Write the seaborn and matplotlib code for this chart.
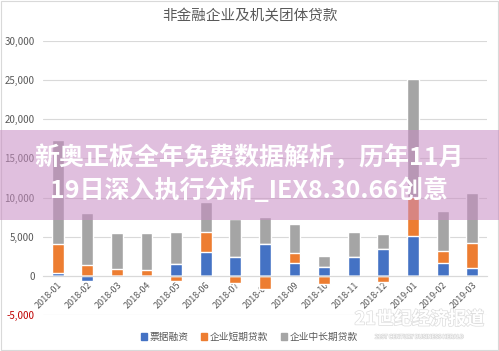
import numpy as np
import pandas as pd
import matplotlib
matplotlib.use('Agg')
import matplotlib.pyplot as plt
import matplotlib.patheffects as pe
from matplotlib.patches import Rectangle
import seaborn as sns

# Data (100 million yuan)
months = ['2018-01', '2018-02', '2018-03', '2018-04', '2018-05', '2018-06',
          '2018-07', '2018-08', '2018-09', '2018-10', '2018-11', '2018-12',
          '2019-01', '2019-02', '2019-03']
bill = [400, -700, -100, 0, 1500, 3000, 2400, 4100, 1700, 1100, 2350, 3400,
        5150, 1700, 1000]
short = [3700, 1400, 850, 800, -600, 2600, -950, -1700, 1200, -1050, 0, -800,
         4950, 1500, 3200]
longterm = [13250, 6650, 4600, 4650, 4050, 3900, 4850, 3400, 3700, 1400, 3300,
            1950, 15000, 5100, 6400]

names = ['票据融资', '企业短期贷款', '企业中长期贷款']
colors = ['#4472C4', '#ED7D31', '#A5A5A5']
title = '非金融企业及机关团体贷款'
yticks = [-5000, 0, 5000, 10000, 15000, 20000, 25000, 30000]
banner = ['新奥正板全年免费数据解析，历年11月', '19日深入执行分析_IEX8.30.66创意']

sns.set_style('white')
plt.rcParams['font.family'] = ['Noto Sans CJK SC', 'DejaVu Sans']
grey = '#595959'

fig = plt.figure(figsize=(4.99, 3.51), dpi=100)
ax = fig.add_axes([0.086, 0.1026, 0.89, 0.7804])

# Stacked bars drawn as overlapping cumulative layers (positive / negative)
series = np.array([bill, short, longterm], dtype=float)
pos = np.cumsum(np.clip(series, 0, None), axis=0)
neg = np.cumsum(np.clip(series, None, 0), axis=0)
for cum in (pos, neg):
    for i in [2, 1, 0]:
        df = pd.DataFrame({'month': months, 'value': cum[i]})
        sns.barplot(data=df, x='month', y='value', color=colors[i],
                    width=0.4, saturation=1, ax=ax, zorder=3)

ax.set_xlim(-0.5, len(months) - 0.5)
ax.set_ylim(-5000, 30000)
ax.set_yticks(yticks)
ax.set_yticklabels(['{:,}'.format(v) for v in yticks], fontsize=7, color=grey)
ax.get_yticklabels()[0].set_color('#C00000')
ax.yaxis.grid(True, color='#D9D9D9', lw=0.8, zorder=0)
ax.set_xlabel('')
ax.set_ylabel('')
for s in ['top', 'right', 'left']:
    ax.spines[s].set_visible(False)
ax.spines['bottom'].set_position(('data', 0))
ax.spines['bottom'].set_color('#D9D9D9')
ax.spines['bottom'].set_zorder(4)
ax.tick_params(axis='y', length=0, pad=6)
ax.tick_params(axis='x', which='major', length=0, pad=3)
ax.set_xticks(np.arange(-0.5, len(months)), minor=True)
ax.tick_params(axis='x', which='minor', length=3, color='#D9D9D9')
ax.set_xticks(range(len(months)))
ax.set_xticklabels(months, rotation=45, ha='right', rotation_mode='anchor',
                   fontsize=6.5, color=grey)

fig.text(0.5, 0.952, title, ha='center', va='center', fontsize=10.5, color=grey)

handles = [Rectangle((0, 0), 1, 1, color=c) for c in colors]
fig.legend(handles, names, loc='center', bbox_to_anchor=(0.5, 0.04), ncol=3,
           frameon=False, fontsize=7, labelcolor=grey, handlelength=0.6,
           handleheight=0.6, handletextpad=0.3, columnspacing=1.3)

# Chart border
fig.patches.append(Rectangle((0.002, 0.003), 0.995, 0.994, fill=False,
                             edgecolor='#D9D9D9', lw=0.8,
                             transform=fig.transFigure, figure=fig))

# Pink banner overlay
fig.patches.append(Rectangle((0, 1 - 220 / 351), 1, 90 / 351,
                             facecolor=(200 / 255, 140 / 255, 195 / 255),
                             alpha=0.55, edgecolor='none', zorder=10,
                             transform=fig.transFigure, figure=fig))
fig.text(0.5, 1 - 158 / 351, banner[0], ha='center', va='center', fontsize=18,
         fontweight='bold', color='white', zorder=11)
fig.text(0.5, 1 - 190 / 351, banner[1], ha='center', va='center', fontsize=18,
         fontweight='bold', color='white', zorder=11)

# Watermark
wm = [pe.withStroke(linewidth=1, foreground='#DDDDDD')]
fig.text(0.84, 1 - 319 / 351, '21世纪经济报道', ha='center', va='center',
         fontsize=13, fontweight='bold', color='white', path_effects=wm)
fig.text(0.84, 1 - 337 / 351, '21ST CENTURY BUSINESS HERALD', ha='center',
         va='center', fontsize=4, color='white', path_effects=wm)

fig.savefig('out.png', dpi=100)
